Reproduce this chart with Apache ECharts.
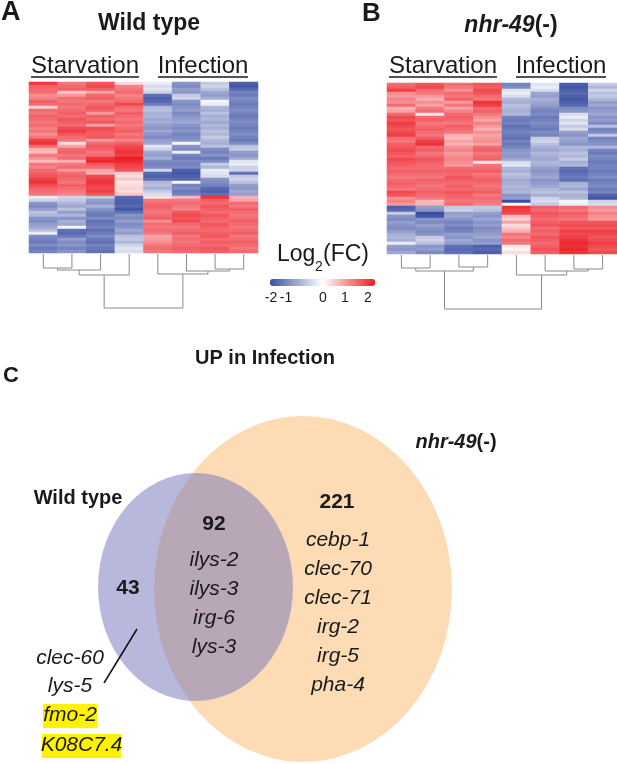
<!DOCTYPE html>
<html><head><meta charset="utf-8">
<script src="https://cdn.jsdelivr.net/npm/echarts@6/dist/echarts.min.js"></script>
<style>html,body{margin:0;padding:0;background:#fff}#c{width:617px;height:764px}</style>
</head><body><div id="c"></div>
<script>
// ---------- DATA ----------
const samples = ['S1','S2','S3','S4','I1','I2','I3','I4'];

// Wild type log2(FC), one array per sample column, rows top->bottom
const wtS1 = [1.8,1.4,1.3,1.3,1.0,1.1,1.4,1.3,0.4,1.3, 1.2,1.4,1.3,1.2,1.3,1.1,1.2,1.0,1.2,1.7, 1.8,1.3,0.7,0.6,1.2,1.0,0.6,1.2,1.1,1.3, 1.4,1.5,1.7,1.8,1.6,1.4,1.3,1.2,
  -0.2,-0.5,-1.2,-1.3,-1.1,-0.7,-0.8,-1.2,-1.3,-1.1, -1.0,-0.7,-0.2,-1.3,-1.4,-1.5,-1.3,-1.5,-1.4];
const wtS2 = [1.2,1.3,1.4,0.5,0.9,1.3,1.2,1.3,1.2,1.3, 1.4,1.3,1.5,1.4,1.3,1.6,1.7,1.5,1.3,1.2, 0.3,0.8,1.3,1.4,1.2,1.3,0.7,1.2,1.3,0.9, 1.3,1.4,1.3,1.2,1.4,1.3,1.2,1.1,
  -0.5,-0.6,-0.8,-1.0,-0.7,-1.1,-0.8,-1.2,-0.9,-1.0, -0.1,-1.6,-1.7,-1.5,-1.1,-1.3,-1.2,-1.4,-1.2];
const wtS3 = [1.5,1.6,1.4,0.8,1.3,1.4,1.2,1.3,1.5,1.4, 0.9,1.4,1.3,1.5,0.8,1.6,1.5,1.4,1.5,0.9, 1.3,1.5,1.4,1.2,1.3,1.8,1.9,1.5,1.3,0.8, 0.7,1.6,1.7,1.8,1.7,1.6,1.7,1.5,
  -0.6,-1.1,-1.2,-0.9,-1.2,-1.4,-1.5,-1.3,-1.6,-1.5, -1.4,-1.6,-1.5,-1.3,-1.5,-1.6,-1.4,-1.5,-1.6];
const wtS4 = [0.3,1.1,1.2,1.3,1.1,1.2,1.3,1.6,1.3,1.2, 1.4,1.3,1.2,1.3,1.2,1.3,1.4,1.2,1.3,1.1, 1.4,1.6,1.7,1.8,1.7,2.0,1.9,1.7,1.6,1.5, 0.4,0.3,0.5,0.2,0.3,0.4,0.3,0.5,
  -1.7,-1.8,-1.8,-1.7,-1.9,-1.6,-1.2,-1.3,-1.1,-1.3, -1.2,-1.0,-1.1,-0.7,-0.6,-0.8,-0.5,-0.3,-0.4];
const wtI1 = [-0.2,-0.4,-0.3,-0.5,-1.6,-1.8,-1.7,-1.5,-0.8,-0.7, -0.9,-0.8,-1.0,-0.9,-1.1,-1.2,-1.0,-1.2,-1.3,-1.1, -1.0,-0.3,-0.5,-1.0,-1.1,-0.9,-1.3,-1.4,-1.3,-0.5, -1.7,-1.8,-1.6,-0.8,-0.7,-0.9,-0.6,-0.4,
  0.3,1.2,1.3,1.4,1.3,1.2,1.3,1.4,1.0,1.3, 1.2,1.3,1.2,0.8,0.9,1.0,1.2,1.3,1.2];
const wtI2 = [-1.2,-1.3,-1.1,-1.2,-0.6,-0.5,-1.2,-1.3,-1.2,-1.1, -1.3,-1.2,-1.1,-1.0,-1.2,-1.3,-1.2,-1.4,-1.3,-1.2, -0.1,-1.2,-1.3,-0.2,-1.4,-1.5,-1.3,-1.4,-1.3,-1.8, -1.9,-1.8,-1.7,-0.1,-1.4,-1.3,-1.5,-1.4,
  0.6,1.2,1.3,1.2,1.1,1.5,1.6,1.5,1.6,1.3, 1.2,1.3,1.4,1.2,1.3,1.2,1.3,1.4,1.3];
const wtI3 = [-0.6,-0.5,-0.7,-1.0,-1.1,-0.9,-0.1,-0.2,-0.8,-0.9, -0.7,-0.9,-0.8,-1.0,-0.8,-0.9,-0.7,-0.8,-0.6,-0.8, -0.9,-0.7,-1.3,-1.4,-1.2,-1.5,-1.3,-0.6,-0.8,-0.2, -0.3,-0.4,-1.2,-1.3,-1.4,-1.7,-1.8,-1.6,
  1.8,1.4,1.3,1.5,1.4,1.3,1.5,1.4,1.3,1.5, 1.4,1.3,1.4,1.5,1.3,1.4,1.3,1.5,1.4];
const wtI4 = [-1.8,-1.9,-1.7,-1.4,-1.5,-1.3,-1.4,-1.5,-1.4,-1.3, -1.4,-1.5,-1.4,-1.3,-1.4,-1.5,-1.4,-1.3,-1.4,-1.5, -1.3,-0.7,-0.6,-1.1,-1.2,-1.0,-0.3,-0.2,-0.5,-0.5, -1.6,-0.6,-0.5,-0.7,-1.1,-1.2,-1.0,-1.1,
  0.7,0.8,1.3,1.2,1.4,1.3,1.2,1.3,1.4,1.3, 1.2,1.3,1.4,1.2,1.3,1.4,1.3,1.2,1.3];

// nhr-49(-) log2(FC)
const nhS1 = [1.3,1.4,1.7,1.0,0.9,1.1,1.0,1.3,0.7,0.8, 1.3,1.6,1.5,1.7,1.6,1.5,1.6,1.7,1.3,1.2, 1.4,1.5,1.6,1.5,1.4,1.6,1.5,1.4,1.3,1.4, 1.3,1.2,1.3,1.4,1.3,1.2,1.6,1.5,1.0,1.1,0.9,
  -1.8,-1.7,-0.6,-1.2,-1.3,-1.1,-1.2,-1.3,-1.1,-0.9, -0.8,-0.9,-0.2,-1.1,-1.2,-1.0];
const nhS2 = [1.5,1.6,1.3,1.2,0.9,0.7,1.0,0.8,1.2,1.3, 0.2,1.3,1.4,1.2,1.3,1.4,1.3,1.2,1.4,1.7, 1.8,1.3,1.4,1.2,1.3,1.5,1.4,1.3,1.3,1.4, 1.3,1.2,1.4,1.3,1.2,1.3,1.4,1.3,1.2,0.6,0.7,
  -1.1,-1.2,-2.0,-1.9,-1.2,-1.3,-1.1,-1.2,-1.3,-1.2, -0.6,-0.5,-0.7,-1.2,-1.1,-1.3];
const nhS3 = [1.3,1.2,1.0,1.3,1.2,1.4,0.9,1.2,0.8,1.1, 1.3,1.4,1.3,1.2,1.4,1.3,1.2,0.7,0.6,0.8, 0.7,1.0,1.1,0.9,1.0,1.1,1.0,0.9,1.3,1.4, 1.3,1.5,1.4,1.3,1.4,1.3,1.5,1.4,1.3,1.2,1.3,
  -0.6,-0.5,-1.1,-1.0,-1.2,-1.4,-1.3,-1.5,-1.4,-1.1, -1.2,-1.0,-1.1,-1.6,-1.7,-1.6];
const nhS4 = [1.5,1.4,1.6,1.5,1.3,1.2,1.8,1.7,1.3,1.4, 1.2,1.0,0.8,1.1,0.9,0.7,1.0,0.8,0.9,1.0, 0.8,1.3,1.4,1.2,1.3,1.4,0.2,1.2,1.3,1.4, 1.2,1.3,1.4,1.3,1.2,1.3,1.4,1.2,1.3,1.2,1.1,
  -0.6,-0.7,-1.1,-1.2,-1.0,-1.2,-1.1,-1.3,-1.2,-1.1, -1.0,-1.2,-1.1,-1.8,-1.7,-1.8];
const nhI1 = [-1.4,-1.3,-0.3,-0.2,-0.4,-0.8,-0.9,-0.7,-0.8,-0.9, -0.8,-1.4,-1.5,-1.4,-1.6,-1.5,-1.4,-1.5,-1.6,-1.4, -1.5,-1.4,-1.2,-1.1,-1.2,-1.0,-0.4,-0.3,-0.8,-0.9, -0.7,-0.8,-1.0,-0.9,-0.8,-0.9,-0.8,-1.2,-1.1,-2.0,-0.1,
  1.8,1.7,1.6,0.6,0.4,0.8,0.3,0.5,0.7,1.2, 1.1,1.3,1.2,0.2,0.1,0.3];
const nhI2 = [-0.3,-0.2,-0.4,-1.0,-1.1,-0.9,-1.0,-1.1,-1.3,-1.4, -1.3,-1.5,-1.4,-1.3,-1.4,-1.5,-1.3,-1.4,-0.6,-0.5, -0.7,-0.9,-1.0,-0.8,-0.9,-1.0,-0.8,-0.9,-1.1,-1.2, -1.1,-1.0,-1.2,-1.1,-1.0,-0.8,-0.7,-0.9,-0.5,-0.4,-0.6,
  1.4,1.3,1.5,1.4,1.3,1.4,1.5,1.3,1.4,1.3, 1.5,1.4,1.3,1.4,1.5,1.4];
const nhI3 = [-1.8,-1.9,-1.8,-1.7,-1.8,-1.9,-1.8,-1.7,-1.3,-1.2, -0.4,-0.2,-0.5,-0.3,-0.6,-0.4,-1.1,-1.2,-1.0,-1.1, -1.2,-0.8,-0.9,-0.7,-0.8,-0.6,-0.9,-0.8,-1.6,-1.7, -1.6,-1.5,-1.6,-0.9,-0.8,-1.0,-0.7,-0.9,-0.8,-0.1,-0.2,
  1.3,1.2,1.4,1.3,1.2,1.5,1.6,1.5,1.7,1.6, 1.7,1.8,1.9,1.8,1.9,1.8];
const nhI4 = [-0.6,-0.8,-0.5,-0.7,-0.6,-0.8,-1.1,-1.0,-1.2,-1.1, -1.0,-1.2,-1.1,-1.3,-0.7,-1.4,-1.3,-0.6,-1.4,-1.3, -1.2,-0.8,-1.4,-1.5,-1.3,-1.4,-1.5,-1.4,-1.4,-1.5, -1.4,-1.3,-1.5,-1.4,-1.3,-1.5,-1.4,-1.8,-1.9,-0.5,-0.4,
  1.0,0.9,1.1,1.0,0.9,1.5,1.6,1.5,1.7,1.6, 1.5,1.6,1.7,1.6,1.5,1.6];

// hierarchical clustering of samples: [childA, childB, height]; new nodes numbered from 8
const wtLinkage  = [[0,1,14],[8,2,16],[9,3,21],[6,7,15],[5,11,17],[4,12,20],[10,13,54]];
const nhrLinkage = [[0,1,13],[2,3,12],[8,9,16],[6,7,14],[5,11,16],[4,12,20],[10,13,54]];

const legendTicks = ['-2','-1','0','1','2'];

// Venn: UP in Infection
const vennCounts = [43, 92, 221];           // WT only, shared, nhr-49 only
const wtOnlyGenes = ['clec-60','lys-5','fmo-2','K08C7.4'];
const sharedGenes = ['ilys-2','ilys-3','irg-6','lys-3'];
const nhrOnlyGenes = ['cebp-1','clec-70','clec-71','irg-2','irg-5','pha-4'];
const highlightedGenes = ['fmo-2','K08C7.4'];

// ---------- BUILD ----------
const wtCols = [wtS1,wtS2,wtS3,wtS4,wtI1,wtI2,wtI3,wtI4];
const nhCols = [nhS1,nhS2,nhS3,nhS4,nhI1,nhI2,nhI3,nhI4];
const nRows = wtS1.length;
const rowCats = wtS1.map((_, i) => 'g' + i);

function heatData(cols){
  const out = [];
  cols.forEach((col, c) => col.forEach((v, r) => out.push([c, r, v])));
  return out;
}
function dendro(link){
  const nodes = samples.map((_, i) => [i, 0]);
  const segs = [];
  link.forEach(([a, b, h]) => {
    const A = nodes[a], B = nodes[b];
    segs.push({coords: [[A[0], A[1]], [A[0], h], [B[0], h], [B[0], B[1]]]});
    nodes.push([(A[0] + B[0]) / 2, h]);
  });
  return segs;
}

const FF = '"Liberation Sans", Arial, Helvetica, sans-serif';
const INK = '#1a1a1a';
function txt(x, y, text, font, align, extra){
  return Object.assign({type:'text', x:x, y:y, silent:true,
    style:{text:text, font:font + ' ' + FF, fill:INK, textAlign:align || 'center', textVerticalAlign:'middle'}}, extra || {});
}
function hline(x1, x2, y){
  return {type:'line', silent:true, shape:{x1:x1, y1:y, x2:x2, y2:y}, style:{stroke:INK, lineWidth:1.4}};
}

const graphics = [];
// panel letters and titles
graphics.push(txt(1, 13, 'A', 'bold 27px', 'left'));
graphics.push(txt(362, 14, 'B', 'bold 26px', 'left'));
graphics.push(txt(149, 24, 'Wild type', 'bold 23px'));
graphics.push({type:'text', x:511, y:26, silent:true, style:{
  text:'{a|nhr-49}{b|(-)}', textAlign:'center', textVerticalAlign:'middle', fill:INK,
  rich:{a:{fontSize:23, fontWeight:'bold', fontStyle:'italic', fontFamily:FF, fill:INK},
        b:{fontSize:23, fontWeight:'bold', fontFamily:FF, fill:INK}}}});
// group headers
[[85, 31, 139], [203, 158, 248], [443, 389, 497], [561, 516, 606]].forEach((g, i) => {
  graphics.push(txt(g[0], 66, i % 2 === 0 ? 'Starvation' : 'Infection', '24px'));
  graphics.push(hline(g[1], g[2], 77));
});
// legend title
graphics.push(txt(277, 255, 'Log', '23px', 'left'));
graphics.push(txt(315, 267, '2', '14px', 'left'));
graphics.push(txt(323, 255, '(FC)', '23px', 'left'));
const tickX = [271, 286, 323, 345, 368];
legendTicks.forEach((t, i) => graphics.push(txt(tickX[i], 298, t, '14px')));

// Venn
graphics.push(txt(3, 376, 'C', 'bold 22px', 'left'));
graphics.push(txt(265, 358, 'UP in Infection', 'bold 20px'));
graphics.push({type:'text', x:456, y:442, silent:true, style:{
  text:'{a|nhr-49}{b|(-)}', textAlign:'center', textVerticalAlign:'middle', fill:INK,
  rich:{a:{fontSize:20, fontWeight:'bold', fontStyle:'italic', fontFamily:FF, fill:INK},
        b:{fontSize:20, fontWeight:'bold', fontFamily:FF, fill:INK}}}});
graphics.push({type:'circle', x:303, y:589, scaleX:0.861, silent:true, shape:{cx:0, cy:0, r:173}, style:{fill:'#fddcb5'}});
graphics.push({type:'circle', x:195.5, y:587, scaleX:0.855, silent:true, shape:{cx:0, cy:0, r:114}, style:{fill:'#7171b9', opacity:0.5}});
graphics.push(txt(78, 498, 'Wild type', 'bold 20px'));
graphics.push(txt(128, 588, String(vennCounts[0]), 'bold 21px'));
graphics.push(txt(214, 524, String(vennCounts[1]), 'bold 21px'));
graphics.push(txt(337, 502, String(vennCounts[2]), 'bold 21px'));
const sharedY = [560, 589, 618, 647];
sharedGenes.forEach((g, i) => graphics.push(txt(214, sharedY[i], g, 'italic 21px')));
const nhrY = [540, 569, 598, 627, 656, 685];
nhrOnlyGenes.forEach((g, i) => graphics.push(txt(338, nhrY[i], g, 'italic 21px')));
const wtX = [70, 70, 70, 81.5], wtY = [658, 686, 715, 745];
const hlBox = {'fmo-2':[43, 704, 54, 24], 'K08C7.4':[42, 734, 79, 24]};
wtOnlyGenes.forEach((g, i) => {
  if (highlightedGenes.indexOf(g) >= 0) {
    const b = hlBox[g];
    graphics.push({type:'rect', silent:true, shape:{x:b[0], y:b[1], width:b[2], height:b[3]}, style:{fill:'#fff200'}});
  }
  graphics.push(txt(wtX[i], wtY[i], g, 'italic 21px'));
});
graphics.push({type:'line', silent:true, shape:{x1:137, y1:629, x2:104, y2:683}, style:{stroke:'#111', lineWidth:1.5}});

const hideAxis = {show:false};
const option = {
  backgroundColor:'#ffffff',
  animation:false,
  grid:[
    {left:29, top:82, width:229, height:171},
    {left:387, top:83, width:230, height:171},
    {left:29, top:254, width:229, height:56},
    {left:387, top:255, width:230, height:56}
  ],
  xAxis:[
    Object.assign({type:'category', data:samples, gridIndex:0}, hideAxis),
    Object.assign({type:'category', data:samples, gridIndex:1}, hideAxis),
    Object.assign({type:'value', min:-0.5, max:7.5, gridIndex:2}, hideAxis),
    Object.assign({type:'value', min:-0.5, max:7.5, gridIndex:3}, hideAxis)
  ],
  yAxis:[
    Object.assign({type:'category', data:rowCats, inverse:true, gridIndex:0}, hideAxis),
    Object.assign({type:'category', data:rowCats, inverse:true, gridIndex:1}, hideAxis),
    Object.assign({type:'value', min:0, max:56, inverse:true, gridIndex:2}, hideAxis),
    Object.assign({type:'value', min:0, max:56, inverse:true, gridIndex:3}, hideAxis)
  ],
  visualMap:{
    type:'continuous', min:-2, max:2, seriesIndex:[0,1], orient:'horizontal',
    left:270, top:279, itemWidth:7, itemHeight:105, padding:0, calculable:false,
    text:null, hoverLink:false,
    inRange:{color:['#3a4ea3','#ffffff','#ed1c24']}
  },
  series:[
    {type:'heatmap', xAxisIndex:0, yAxisIndex:0, data:heatData(wtCols), silent:true, progressive:0, emphasis:{disabled:true}},
    {type:'heatmap', xAxisIndex:1, yAxisIndex:1, data:heatData(nhCols), silent:true, progressive:0, emphasis:{disabled:true}},
    {type:'lines', coordinateSystem:'cartesian2d', xAxisIndex:2, yAxisIndex:2, polyline:true, silent:true,
     data:dendro(wtLinkage), lineStyle:{color:'#8a8a8a', width:1, opacity:1}},
    {type:'lines', coordinateSystem:'cartesian2d', xAxisIndex:3, yAxisIndex:3, polyline:true, silent:true,
     data:dendro(nhrLinkage), lineStyle:{color:'#8a8a8a', width:1, opacity:1}}
  ],
  graphic:{elements:graphics}
};
const chart = echarts.init(document.getElementById('c'), null, {renderer:'canvas'});
chart.setOption(option);
</script></body></html>
